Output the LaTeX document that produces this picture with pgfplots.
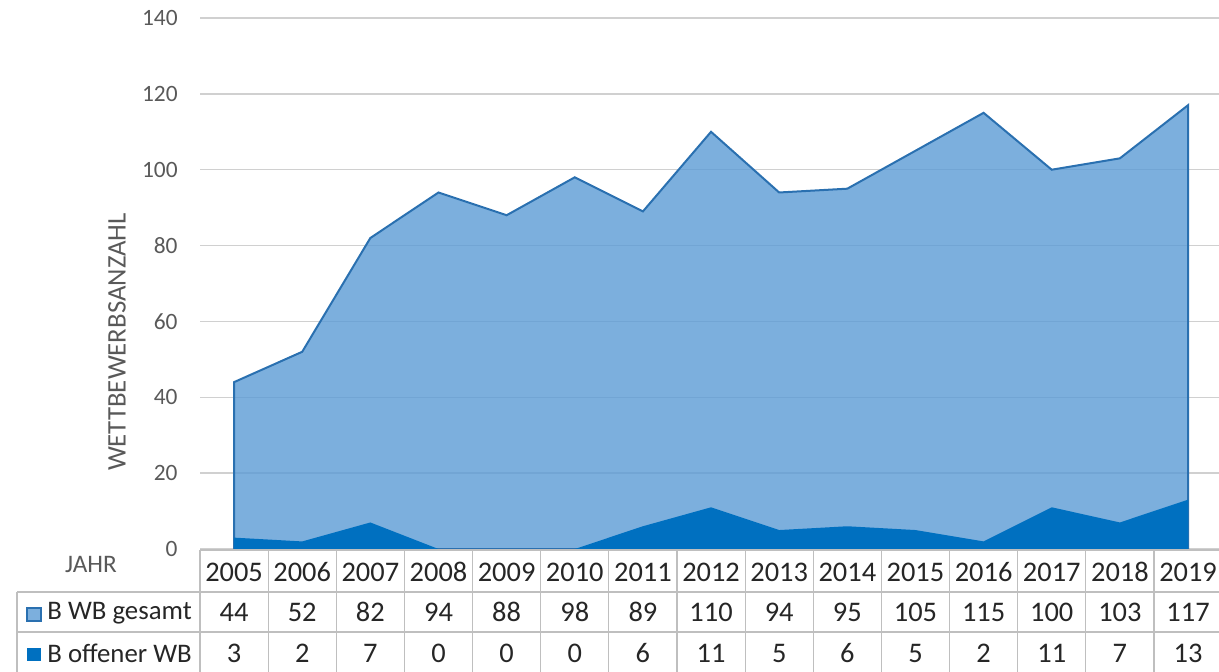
\documentclass[border=0pt]{standalone}
\usepackage{fontspec}
\setmainfont{Carlito}
\usepackage{pgfplots}
\pgfplotsset{compat=1.18}

\definecolor{lightarea}{HTML}{5B9BD5}
\definecolor{areaedge}{HTML}{2A70B0}
\definecolor{darkarea}{HTML}{0070C0}
\definecolor{gridgray}{HTML}{D0D0D0}
\definecolor{tablegray}{HTML}{BFBFBF}
\definecolor{labelgray}{HTML}{595959}

\newcommand{\tickfont}{\fontsize{11.7}{14}\selectfont}
\newcommand{\tabfont}{\fontsize{13.4}{16}\selectfont}
\newcommand{\numfont}{\fontsize{14.2}{17}\selectfont}

\begin{document}
\begin{tikzpicture}
% pixel frame: 1px = 0.5pt, origin top left, y downwards
\begin{axis}[
  at={(100pt,-274.5pt)}, anchor=south west,
  scale only axis, width=509.5pt, height=265.5pt,
  xmin=-0.5, xmax=14.455, ymin=0, ymax=140,
  xtick=\empty, ytick={0,20,...,140},
  ymajorgrids, grid style={draw=gridgray, line width=0.75pt},
  axis line style={draw=none}, major tick length=0pt,
  yticklabel style={font=\tickfont, text=labelgray, inner sep=0pt, xshift=-11pt},
  /pgf/number format/assume math mode=true,
]
% B WB gesamt
\addplot[fill=lightarea, fill opacity=0.8, draw=areaedge, line width=1pt]
  coordinates {(0,44) (1,52) (2,82) (3,94) (4,88) (5,98) (6,89) (7,110)
               (8,94) (9,95) (10,105) (11,115) (12,100) (13,103) (14,117)} \closedcycle;
% B offener WB
\addplot[fill=darkarea, draw=none]
  coordinates {(0,3) (1,2) (2,7) (3,0) (4,0) (5,0) (6,6) (7,11)
               (8,5) (9,6) (10,5) (11,2) (12,11) (13,7) (14,13)} \closedcycle;
\end{axis}

\begin{scope}[x=0.5pt, y=-0.5pt]
  % axis title and table corner label
  \node[rotate=90, text=labelgray, font=\fontsize{13.4}{16}\selectfont] at (117,342) {WETTBEWERBSANZAHL};
  \node[text=labelgray, font=\fontsize{12.6}{15}\selectfont] at (91,564) {JAHR};

  % data table grid
  \draw[tablegray, line width=0.6pt] (200,550) -- (1222,550);
  \draw[tablegray, line width=0.6pt] (17,592) -- (1222,592);
  \draw[tablegray, line width=0.6pt] (17,632) -- (1222,632);
  \draw[tablegray, line width=0.6pt] (17,592) -- (17,675);
  \foreach \k in {0,...,15}
    \draw[tablegray, line width=0.6pt] ({200+68.14*\k},550) -- ({200+68.14*\k},675);

  % row labels with legend keys
  \fill[lightarea!80!white, draw=areaedge, line width=0.6pt] (27,608) rectangle (41,621);
  \fill[darkarea] (27,648) rectangle (41,661);
  \node[anchor=west, inner sep=0pt, font=\tabfont, text=black!85] at (47,613) {B WB gesamt};
  \node[anchor=west, inner sep=0pt, font=\tabfont, text=black!85] at (47,653) {B offener WB};

  % table values
  \foreach \i/\yr/\g/\o in {0/2005/44/3, 1/2006/52/2, 2/2007/82/7, 3/2008/94/0,
      4/2009/88/0, 5/2010/98/0, 6/2011/89/6, 7/2012/110/11, 8/2013/94/5,
      9/2014/95/6, 10/2015/105/5, 11/2016/115/2, 12/2017/100/11,
      13/2018/103/7, 14/2019/117/13} {
    \node[font=\numfont, text=black!85] at ({234.07+68.14*\i},572) {\yr};
    \node[font=\numfont, text=black!85] at ({234.07+68.14*\i},612) {\g};
    \node[font=\numfont, text=black!85] at ({234.07+68.14*\i},653) {\o};
  }

  \pgfresetboundingbox
  \path[use as bounding box] (0,0) rectangle (1219,671);
\end{scope}
\end{tikzpicture}
\end{document}
